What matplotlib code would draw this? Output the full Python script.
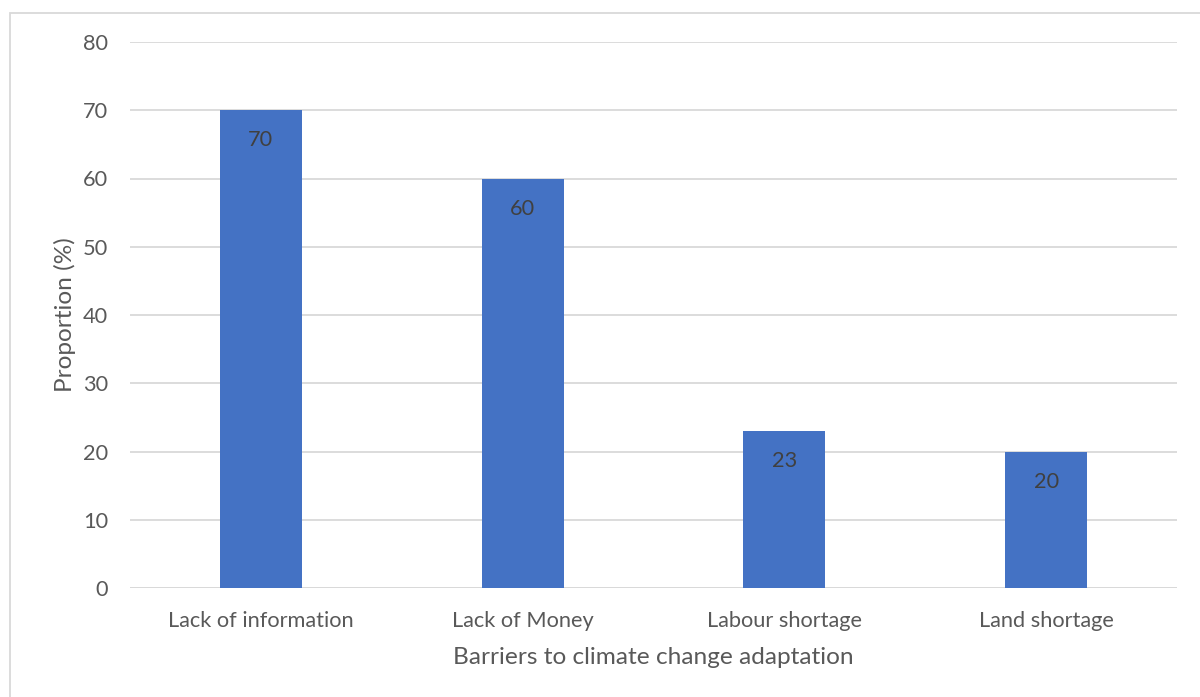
import matplotlib
matplotlib.use("Agg")
import matplotlib.pyplot as plt
from matplotlib.patches import Rectangle

categories = ["Lack of information", "Lack of Money", "Labour shortage", "Land shortage"]
proportions = [70, 60, 23, 20]
y_ticks = [0, 10, 20, 30, 40, 50, 60, 70, 80]

plt.rcParams["font.family"] = ["Lato", "DejaVu Sans"]

W, H = 1200, 697
fig = plt.figure(figsize=(12, 6.97), dpi=100)
ax = fig.add_axes([130 / W, 1 - 588 / H, (1177 - 130) / W, (588 - 42) / H])

bar_color = "#4472C4"
text_color = "#595959"
grid_color = "#D9D9D9"

x = list(range(len(categories)))
bars = ax.bar(x, proportions, width=0.313, color=bar_color, zorder=3)
for rect, v in zip(bars, proportions):
    ax.annotate(f"{v}", (rect.get_x() + rect.get_width() / 2, v),
                xytext=(0, -14.5), textcoords="offset points",
                ha="center", va="top", fontsize=15.7, color="#404040", zorder=4)

ax.set_xlim(-0.5, len(categories) - 0.5)
ax.set_ylim(0, 80)
ax.set_yticks(y_ticks)
ax.set_xticks(x)
ax.set_xticklabels(categories)
ax.tick_params(axis="both", length=0, colors=text_color, labelsize=15.7)
ax.tick_params(axis="y", pad=15.8)
ax.tick_params(axis="x", pad=16.3)
ax.yaxis.grid(True, color=grid_color, linewidth=1.3, zorder=0)
for s in ax.spines.values():
    s.set_visible(False)
ax.axhline(0, color=grid_color, linewidth=1.3, zorder=2)

ax.set_ylabel("Proportion (%)", fontsize=17.6, color=text_color, labelpad=5)
ax.set_xlabel("Barriers to climate change adaptation", fontsize=17.6, color=text_color, labelpad=12)

# Chart-area frame
fig.patches.append(Rectangle((10 / W, -0.05), 1.1, 1 - 13 / H + 0.05,
                             transform=fig.transFigure, fill=False,
                             edgecolor="#D9D9D9", linewidth=1.3))

fig.savefig("out.png", dpi=100, facecolor="white")
